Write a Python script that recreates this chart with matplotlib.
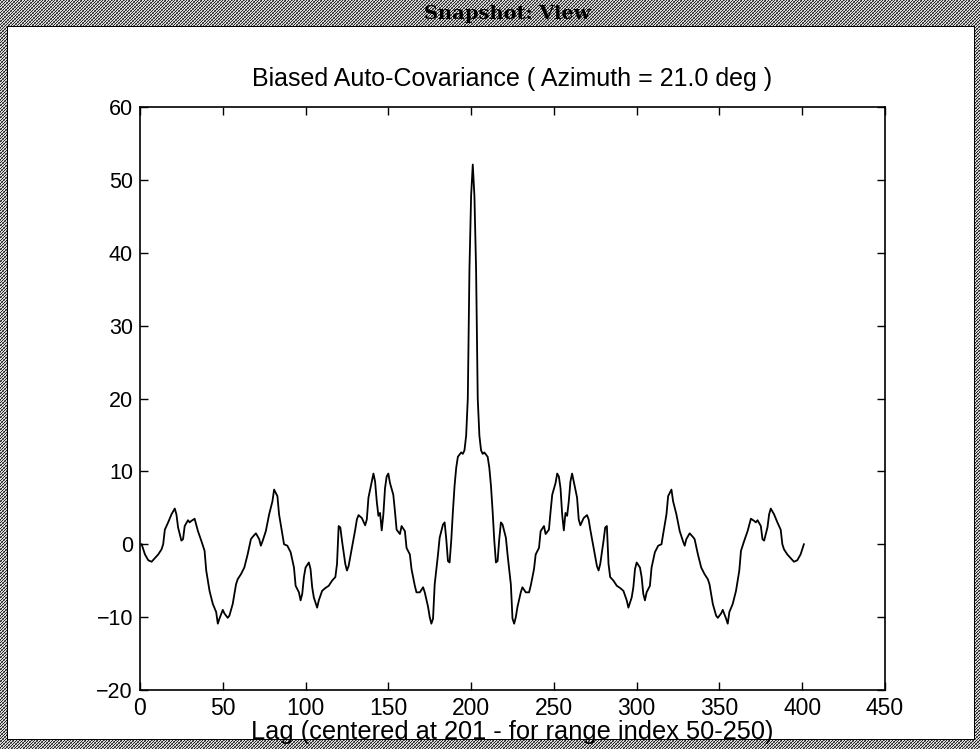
import numpy as np
import matplotlib
matplotlib.use("Agg")
import matplotlib.pyplot as plt

# ---------------- data ----------------
lag = [1, 3, 5, 7, 9, 11, 13, 14, 15, 17, 19, 21, 22, 23, 25, 26, 27, 29, 30, 31,
       33, 35, 37, 39, 40, 42, 44, 46, 47, 48, 50, 51, 53, 54, 56, 58, 59, 61, 63, 65,
       67, 68, 70, 72, 73, 74, 76, 78, 80, 81, 83, 84, 86, 87, 89, 91, 93, 94, 96, 97,
       98, 99, 100, 102, 103, 104, 105, 107, 108, 110, 112, 114, 116, 118, 119, 120, 121, 122, 124, 125,
       126, 128, 130, 131, 132, 134, 136, 137, 138, 140, 141, 142, 143, 144, 145, 146, 147, 148, 149, 150,
       151, 153, 154, 155, 157, 158, 160, 161, 163, 164, 166, 167, 169, 171, 172, 174, 175, 176, 177, 178,
       180, 181, 183, 184, 185, 186, 187, 188, 189, 190, 191, 192, 193, 194, 195, 196, 197, 198, 199, 200,
       201,
       202, 203, 204, 205, 206, 207, 208, 209, 210, 211, 212, 213, 214, 215, 216, 217, 218, 219, 221, 222,
       224, 225, 226, 227, 228, 230, 231, 233, 235, 236, 238, 239, 241, 242, 244, 245, 247, 248, 249, 251,
       252, 253, 254, 255, 256, 257, 258, 259, 260, 261, 262, 264, 265, 266, 268, 270, 271, 272, 274, 276,
       277, 278, 280, 281, 282, 283, 284, 286, 288, 290, 292, 294, 295, 297, 298, 299, 300, 302, 303, 304,
       305, 306, 308, 309, 311, 313, 315, 316, 318, 319, 321, 322, 324, 326, 328, 329, 330, 332, 334, 335,
       337, 339, 341, 343, 344, 346, 348, 349, 351, 352, 354, 355, 356, 358, 360, 362, 363, 365, 367, 369,
       371, 372, 373, 375, 376, 377, 379, 380, 381, 383, 385, 387, 388, 389, 391, 393, 395, 397, 399, 401]

cov = [0.0, -1.4, -2.2, -2.4, -1.9, -1.4, -0.7, 0.0, 2.0, 3.0, 4.1, 4.9, 4.1, 2.3, 0.5, 0.7, 2.5, 3.3, 3.0, 3.2,
       3.5, 1.8, 0.5, -0.9, -3.6, -6.4, -8.2, -9.3, -10.9, -10.2, -9.0, -9.5, -10.1, -9.8, -8.2, -5.5, -4.8, -4.1, -3.2, -1.4,
       0.7, 1.0, 1.5, 0.7, -0.2, 0.4, 1.8, 4.1, 5.9, 7.5, 6.6, 4.1, 1.4, 0.0, -0.2, -1.1, -3.2, -5.7, -6.6, -7.7,
       -6.8, -4.5, -3.2, -2.5, -3.4, -5.9, -7.3, -8.7, -7.7, -6.4, -6.0, -5.7, -5.0, -4.5, -2.7, 2.5, 2.3, 0.5, -2.7, -3.6,
       -3.0, -0.5, 2.0, 3.4, 4.0, 3.6, 2.6, 3.4, 6.4, 8.6, 9.7, 8.6, 5.9, 3.9, 4.3, 1.9, 4.1, 7.7, 9.3, 9.7,
       8.4, 6.8, 4.5, 2.0, 1.4, 2.5, 1.8, -0.5, -1.4, -3.4, -5.7, -6.6, -6.6, -5.9, -6.6, -8.6, -10.0, -10.9, -10.2, -5.5,
       -1.4, 0.9, 2.7, 3.0, 0.7, -2.3, -2.5, 0.5, 4.5, 8.0, 10.5, 12.0, 12.3, 12.6, 12.4, 12.9, 14.9, 20.0, 37.8, 47.8,
       52.1,
       47.8, 37.8, 20.0, 14.9, 12.9, 12.4, 12.6, 12.3, 12.0, 10.5, 8.0, 4.5, 0.5, -2.5, -2.3, 0.7, 3.0, 2.7, 0.9, -1.4,
       -5.5, -10.2, -10.9, -10.0, -8.6, -6.6, -5.9, -6.6, -6.6, -5.7, -3.4, -1.4, -0.5, 1.8, 2.5, 1.4, 2.0, 4.5, 6.8, 8.4,
       9.7, 9.3, 7.7, 4.1, 1.9, 4.3, 3.9, 5.9, 8.6, 9.7, 8.6, 6.4, 3.4, 2.6, 3.6, 4.0, 3.4, 2.0, -0.5, -3.0,
       -3.6, -2.7, 0.5, 2.3, 2.5, -2.7, -4.5, -5.0, -5.7, -6.0, -6.4, -7.7, -8.7, -7.3, -5.9, -3.4, -2.5, -3.2, -4.5, -6.8,
       -7.7, -6.6, -5.7, -3.2, -1.1, -0.2, 0.0, 1.4, 4.1, 6.6, 7.5, 5.9, 4.1, 1.8, 0.4, -0.2, 0.7, 1.5, 1.0, 0.7,
       -1.4, -3.2, -4.1, -4.8, -5.5, -8.2, -9.8, -10.1, -9.5, -9.0, -10.2, -10.9, -9.3, -8.2, -6.4, -3.6, -0.9, 0.5, 1.8, 3.5,
       3.2, 3.0, 3.3, 2.5, 0.7, 0.5, 2.3, 4.1, 4.9, 4.1, 3.0, 2.0, 0.0, -0.7, -1.4, -1.9, -2.4, -2.2, -1.4, 0.0]

x_ticks = [0, 50, 100, 150, 200, 250, 300, 350, 400, 450]
y_ticks = [-20, -10, 0, 10, 20, 30, 40, 50, 60]

window_title = "Snapshot: View"
plot_title = "Biased Auto-Covariance ( Azimuth = 21.0 deg )"
x_label = "Lag (centered at 201 - for range index 50-250)"

# ---------------- figure ----------------
plt.rcParams["font.family"] = ["Liberation Sans", "DejaVu Sans"]

W, H = 980, 749
fig = plt.figure(figsize=(W / 100, H / 100), dpi=100)

# window frame texture (decorative background)
yy, xx = np.mgrid[0:H, 0:W]
bg = np.where((xx + yy) % 3 == 0, 0.15, np.where((xx - yy) % 4 == 0, 0.45, 0.85))
inner = (xx >= 7) & (xx <= 974) & (yy >= 26) & (yy <= 739)
bg[inner] = 1.0
edge = inner & ((xx == 7) | (xx == 974) | (yy == 26) | (yy == 739))
bg[edge] = 0.0
fig.figimage(bg, cmap="gray", vmin=0, vmax=1, origin="upper", zorder=-5)

fig.text(507 / W, 1 - 14 / H, window_title, ha="center", va="center",
         fontsize=14, fontweight="bold", family=["DejaVu Serif"], color="black")

ax = fig.add_axes([140 / W, 1 - 690 / H, 745 / W, 583 / H], zorder=1)
ax.plot(lag, cov, color="black", lw=1.3)
ax.set_xlim(0, 450)
ax.set_ylim(-20, 60)
ax.set_xticks(x_ticks)
ax.set_yticks(y_ticks)
ax.tick_params(direction="in", top=True, right=True, length=6, width=1, pad=5)
ax.tick_params(axis="x", labelsize=16.5, pad=5)
ax.tick_params(axis="y", labelsize=15.5)
for s in ax.spines.values():
    s.set_linewidth(1.2)
ax.set_title(plot_title, fontsize=18, pad=15)
ax.set_xlabel(x_label, fontsize=18.3, family=["Liberation Sans Narrow", "Liberation Sans"], labelpad=0)

fig.savefig("out.png", dpi=100)
